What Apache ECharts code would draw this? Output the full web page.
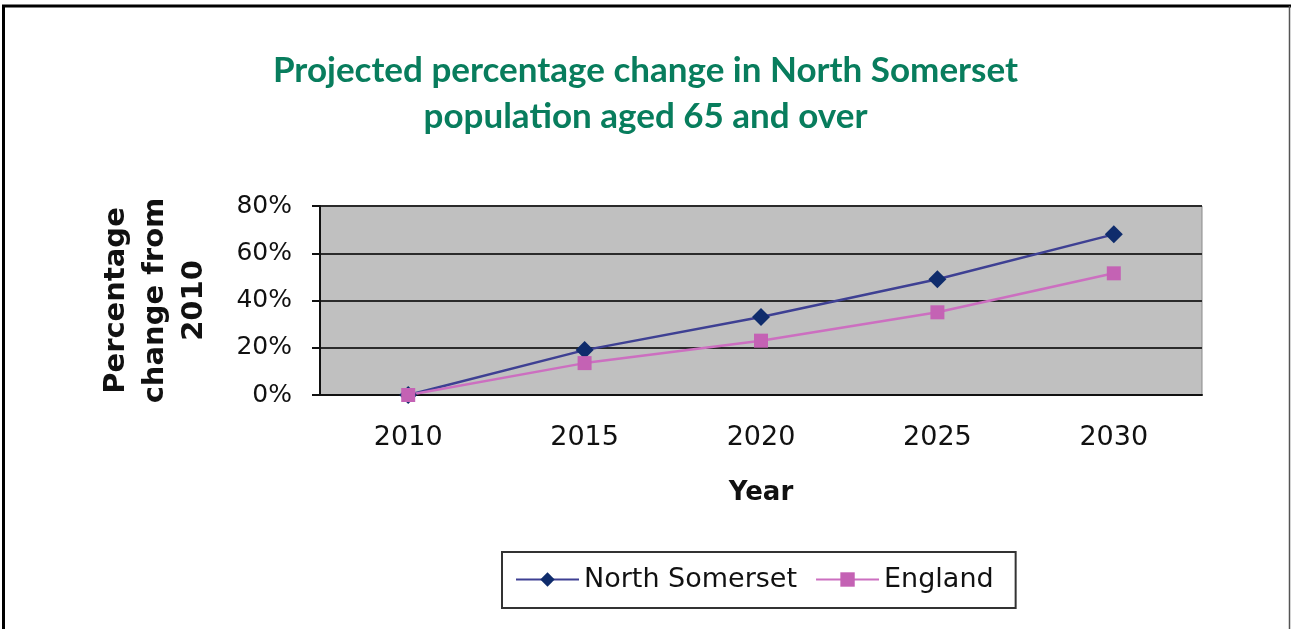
<!DOCTYPE html>
<html>
<head>
<meta charset="utf-8">
<script src="https://cdn.jsdelivr.net/npm/echarts@6/dist/echarts.min.js"></script>
<style>
  html, body { margin: 0; padding: 0; background: #fff; }
  #chart { width: 1291px; height: 629px; }
</style>
</head>
<body>
<div id="chart"></div>
<script>
// data
const years = ['2010', '2015', '2020', '2025', '2030'];
const northSomerset = [0, 19, 33, 49, 68];
const england = [0, 13.5, 23, 35, 51.5];
const yTicks = { min: 0, max: 80, step: 20 };

const chart = echarts.init(document.getElementById('chart'));

const option = {
    backgroundColor: '#fff',
    animation: false,
    title: {
        text: 'Projected percentage change in North Somerset\npopulation aged 65 and over',
        left: 'center',
        top: 43,
        textStyle: {
            fontFamily: 'Lato',
            fontWeight: 'bold',
            fontSize: 35,
            lineHeight: 46,
            color: '#087D5D'
        }
    },
    grid: {
        left: 320,
        right: 89,
        top: 206,
        bottom: 234,
        show: true,
        backgroundColor: '#C0C0C0',
        borderColor: '#8a8a8a',
        borderWidth: 1
    },
    legend: {
        left: 502,
        top: 552,
        padding: [14, 22, 15, 13],
        itemWidth: 63,
        itemHeight: 18,
        itemGap: 18,
        borderColor: '#333',
        borderWidth: 2,
        textStyle: {
            fontFamily: 'DejaVu Sans',
            fontSize: 27,
            color: '#111'
        },
        data: ['North Somerset', 'England']
    },
    xAxis: {
        type: 'category',
        data: years,
        name: 'Year',
        nameLocation: 'middle',
        nameGap: 85,
        nameTextStyle: {
            fontFamily: 'DejaVu Sans',
            fontWeight: 'bold',
            fontSize: 26,
            color: '#111'
        },
        axisLine: { lineStyle: { color: '#111', width: 2 } },
        axisTick: { length: 8, lineStyle: { color: '#111', width: 2 } },
        axisLabel: {
            margin: 29,
            fontFamily: 'DejaVu Sans',
            fontSize: 27,
            color: '#111'
        }
    },
    yAxis: {
        type: 'value',
        min: yTicks.min,
        max: yTicks.max,
        interval: yTicks.step,
        name: 'Percentage\nchange from\n2010',
        nameLocation: 'middle',
        nameRotate: 90,
        nameGap: 106,
        nameTextStyle: {
            fontFamily: 'DejaVu Sans',
            fontWeight: 'bold',
            fontSize: 29,
            lineHeight: 39,
            color: '#111',
            align: 'center'
        },
        axisLine: { show: true, lineStyle: { color: '#111', width: 2 } },
        axisTick: { show: true, length: 8, lineStyle: { color: '#111', width: 2 } },
        axisLabel: {
            formatter: '{value}%',
            margin: 28,
            fontFamily: 'DejaVu Sans',
            fontSize: 25,
            color: '#111'
        },
        splitLine: { lineStyle: { color: '#2b2b2b', width: 2 } }
    },
    series: [
        {
            name: 'North Somerset',
            type: 'line',
            data: northSomerset,
            symbol: 'diamond',
            symbolSize: 18,
            itemStyle: { color: '#0F2C6C' },
            lineStyle: { color: '#3E4093', width: 2.5 }
        },
        {
            name: 'England',
            type: 'line',
            data: england,
            symbol: 'rect',
            symbolSize: 14,
            itemStyle: { color: '#C462B4' },
            lineStyle: { color: '#CC6FC0', width: 2.5 }
        }
    ],
    graphic: [
        { type: 'line', shape: { x1: 2, y1: 6, x2: 1291, y2: 6 }, style: { stroke: '#000', lineWidth: 3 } },
        { type: 'line', shape: { x1: 3.5, y1: 5, x2: 3.5, y2: 629 }, style: { stroke: '#000', lineWidth: 3 } },
        { type: 'line', shape: { x1: 1289.5, y1: 6, x2: 1289.5, y2: 629 }, style: { stroke: '#555', lineWidth: 1.5 } }
    ]
};

chart.setOption(option);
window.addEventListener('resize', () => chart.resize(), { passive: true });
</script>
</body>
</html>
